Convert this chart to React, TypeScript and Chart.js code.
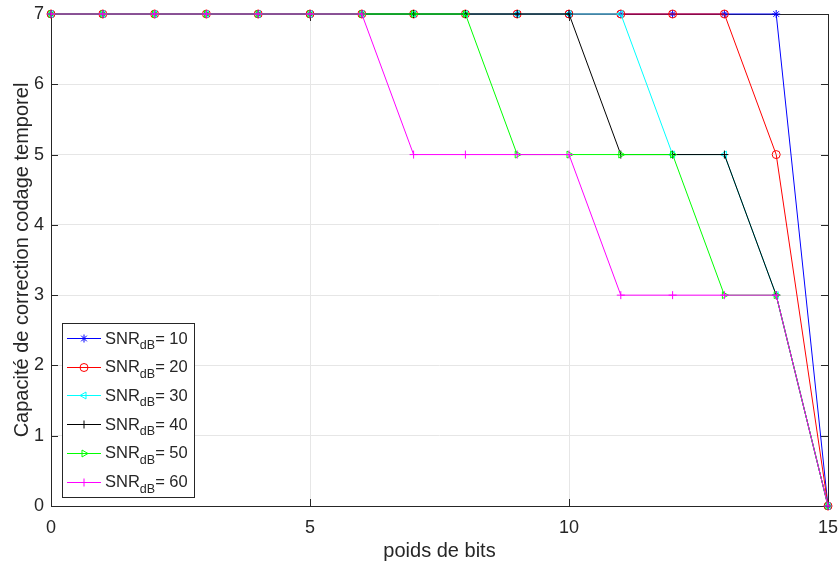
import React, { useEffect, useRef } from "react";
import { Chart, registerables } from "chart.js";
import { drawPoint } from "chart.js/helpers";

Chart.register(...registerables);

const bitWeights = [0, 1, 2, 3, 4, 5, 6, 7, 8, 9, 10, 11, 12, 13, 14, 15];
const snr10 = [7, 7, 7, 7, 7, 7, 7, 7, 7, 7, 7, 7, 7, 7, 7, 0];
const snr20 = [7, 7, 7, 7, 7, 7, 7, 7, 7, 7, 7, 7, 7, 7, 5, 0];
const snr30 = [7, 7, 7, 7, 7, 7, 7, 7, 7, 7, 7, 7, 5, 5, 3, 0];
const snr40 = [7, 7, 7, 7, 7, 7, 7, 7, 7, 7, 7, 5, 5, 5, 3, 0];
const snr50 = [7, 7, 7, 7, 7, 7, 7, 7, 7, 5, 5, 5, 5, 3, 3, 0];
const snr60 = [7, 7, 7, 7, 7, 7, 7, 5, 5, 5, 5, 3, 3, 3, 3, 0];

const seriesValues = [snr10, snr20, snr30, snr40, snr50, snr60];
const seriesSnr = ["10", "20", "30", "40", "50", "60"];
const seriesColors = ["#0000ff", "#ff0000", "#00ffff", "#000000", "#00ff00", "#ff00ff"];
const seriesMarkers = ["star", "circle", "triangle", "cross", "triangle", "cross"];
const seriesRotation = [0, 0, -90, 0, 90, 0];

const xTitle = "poids de bits";
const yTitle = "Capacité de correction codage temporel";

const FONT = "'Liberation Sans', Arial, Helvetica, sans-serif";
const TEXT = "#262626";

const framePlugin = {
  id: "frame",
  beforeDatasetsDraw(chart: any) {
    const { ctx, chartArea: a, scales } = chart;
    ctx.save();
    ctx.strokeStyle = TEXT;
    ctx.lineWidth = 1;
    ctx.beginPath();
    ctx.rect(Math.round(a.left) + 0.5, Math.round(a.top) + 0.5, Math.round(a.right - a.left), Math.round(a.bottom - a.top));
    ctx.stroke();
    const tl = 7;
    ctx.beginPath();
    scales.x.ticks.forEach((t: any) => {
      const px = Math.round(scales.x.getPixelForValue(t.value)) + 0.5;
      ctx.moveTo(px, a.bottom);
      ctx.lineTo(px, a.bottom - tl);
      ctx.moveTo(px, a.top);
      ctx.lineTo(px, a.top + tl);
    });
    scales.y.ticks.forEach((t: any) => {
      const py = Math.round(scales.y.getPixelForValue(t.value)) + 0.5;
      ctx.moveTo(a.left, py);
      ctx.lineTo(a.left + tl, py);
      ctx.moveTo(a.right, py);
      ctx.lineTo(a.right - tl, py);
    });
    ctx.stroke();
    ctx.restore();
  },
  afterDraw(chart: any) {
    const { ctx } = chart;
    ctx.save();
    const bx = 62.5, by = 323.5, bw = 132, bh = 174;
    ctx.fillStyle = "#ffffff";
    ctx.fillRect(bx, by, bw, bh);
    ctx.strokeStyle = TEXT;
    ctx.lineWidth = 1;
    ctx.strokeRect(bx, by, bw, bh);
    const rowH = 28.7;
    for (let i = 0; i < seriesSnr.length; i++) {
      const cy = 338 + i * rowH;
      ctx.strokeStyle = seriesColors[i];
      ctx.lineWidth = 1;
      ctx.beginPath();
      ctx.moveTo(67, Math.round(cy) + 0.5);
      ctx.lineTo(101, Math.round(cy) + 0.5);
      ctx.stroke();
      ctx.fillStyle = "rgba(0,0,0,0)";
      drawPoint(ctx, { pointStyle: seriesMarkers[i], rotation: seriesRotation[i], radius: 4, borderWidth: 1 } as any, 84, Math.round(cy) + 0.5);
      ctx.fillStyle = TEXT;
      ctx.textBaseline = "alphabetic";
      ctx.textAlign = "left";
      const base = cy + 5.5;
      ctx.font = `16.5px ${FONT}`;
      ctx.fillText("SNR", 105, base);
      let x = 105 + ctx.measureText("SNR").width;
      ctx.font = `12.5px ${FONT}`;
      ctx.fillText("dB", x, base + 5.5);
      x += ctx.measureText("dB").width;
      ctx.font = `16.5px ${FONT}`;
      ctx.fillText("= " + seriesSnr[i], x, base);
    }
    ctx.restore();
  },
};

export default function App() {
  const ref = useRef<HTMLCanvasElement | null>(null);
  useEffect(() => {
    if (!ref.current) return;
    const datasets = seriesValues.map((vals, i) => ({
      label: "SNR dB = " + seriesSnr[i],
      data: bitWeights.map((x, j) => ({ x, y: vals[j] })),
      borderColor: seriesColors[i],
      backgroundColor: "rgba(0,0,0,0)",
      borderWidth: 1,
      pointStyle: seriesMarkers[i],
      pointRotation: seriesRotation[i],
      pointRadius: 4,
      pointBorderWidth: 1,
      pointBorderColor: seriesColors[i],
      pointBackgroundColor: "rgba(0,0,0,0)",
      tension: 0,
      clip: false as any,
      order: seriesSnr.length - 1 - i,
    }));
    const chart = new Chart(ref.current, {
      type: "line",
      data: { datasets },
      plugins: [framePlugin],
      options: {
        animation: false,
        responsive: false,
        layout: { padding: { left: 0, top: 14, right: 10, bottom: 0 } },
        plugins: { legend: { display: false }, tooltip: { enabled: false } },
        scales: {
          x: {
            type: "linear",
            min: 0,
            max: 15,
            afterFit: (s: any) => { s.height = 59; s.paddingLeft = 0; s.paddingRight = 0; },
            ticks: { stepSize: 5, padding: 11, color: TEXT, font: { family: FONT, size: 18 } },
            grid: { color: "#e6e6e6", drawTicks: false },
            border: { display: false },
            title: { display: true, text: xTitle, color: TEXT, font: { family: FONT, size: 20 }, padding: { top: 0, bottom: 2 } },
          },
          y: {
            type: "linear",
            min: 0,
            max: 7,
            afterFit: (s: any) => { s.width = 51; s.paddingTop = 0; s.paddingBottom = 0; },
            ticks: { stepSize: 1, padding: 7, color: TEXT, font: { family: FONT, size: 18 } },
            grid: { color: "#e6e6e6", drawTicks: false },
            border: { display: false },
            title: { display: true, text: yTitle, color: TEXT, font: { family: FONT, size: 20 }, padding: { top: 10, bottom: 0 } },
          },
        },
      },
    });
    return () => chart.destroy();
  }, []);
  return (
    <div style={{ position: "absolute", left: 0, top: 0, width: 838, height: 565, background: "#fff" }}>
      <canvas ref={ref} width={838} height={565} style={{ display: "block" }} />
    </div>
  );
}
